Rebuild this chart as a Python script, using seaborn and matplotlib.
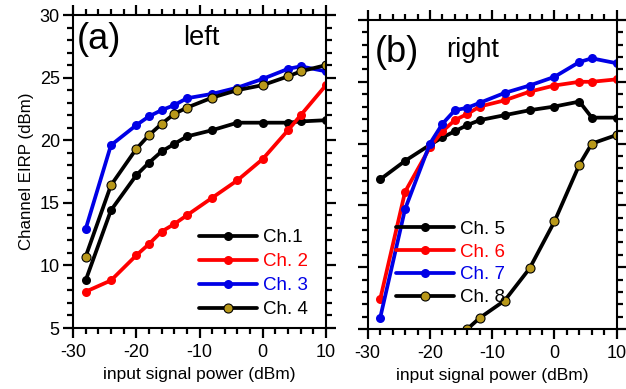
import numpy as np
import pandas as pd
import matplotlib
matplotlib.use("Agg")
import matplotlib.pyplot as plt
import seaborn as sns
from matplotlib.ticker import MultipleLocator

sns.set_style("ticks")
plt.rcParams['font.family'] = ['Liberation Sans', 'DejaVu Sans']
plt.rcParams['text.color'] = 'black'
plt.rcParams['axes.labelcolor'] = 'black'
plt.rcParams['axes.linewidth'] = 1.5
plt.rcParams['axes.edgecolor'] = 'black'
plt.rcParams['axes.unicode_minus'] = False

# ---- data ----
x_left = [-28, -24, -20, -18, -16, -14, -12, -8, -4, 0, 4, 6, 10]
ch1 = [8.8, 14.4, 17.2, 18.2, 19.1, 19.7, 20.3, 20.8, 21.4, 21.4, 21.4, 21.5, 21.6]
ch2 = [7.9, 8.8, 10.8, 11.7, 12.7, 13.3, 14.0, 15.4, 16.8, 18.5, 20.8, 22.0, 24.4]
ch3 = [12.9, 19.6, 21.2, 21.9, 22.4, 22.8, 23.35, 23.7, 24.2, 24.9, 25.7, 25.9, 25.5]
ch4 = [10.7, 16.4, 19.3, 20.4, 21.3, 22.1, 22.6, 23.4, 24.0, 24.4, 25.1, 25.5, 26.0]

x_right = [-28, -24, -20, -18, -16, -14, -12, -8, -4, 0, 4, 6, 10]
ch5 = [17.1, 18.6, 19.9, 20.5, 21.0, 21.5, 21.9, 22.3, 22.7, 23.0, 23.4, 22.1, 22.1]
ch6 = [7.4, 16.1, 19.7, 21.0, 21.9, 22.4, 23.0, 23.5, 24.2, 24.7, 25.0, 25.0, 25.2]
ch7 = [5.9, 14.7, 20.0, 21.6, 22.7, 22.9, 23.3, 24.1, 24.7, 25.4, 26.6, 26.9, 26.5]
x_ch8 = [-14, -12, -8, -4, 0, 4, 6, 10]
ch8 = [5.0, 5.9, 7.3, 9.9, 13.7, 18.3, 20.0, 20.7]

labels_left = ["Ch.1", "Ch. 2", "Ch. 3", "Ch. 4"]
labels_right = ["Ch. 5", "Ch. 6", "Ch. 7", "Ch. 8"]
xticks = [-30, -20, -10, 0, 10]
yticks = [5, 10, 15, 20, 25, 30]

BLACK = "#000000"
RED = "#ff0000"
BLUE = "#0000e6"
GOLD = "#b8981a"

fig = plt.figure(figsize=(6.26, 3.89), dpi=100)
axL = fig.add_axes([0.1166, 0.1568, 0.4042, 0.8046])
axR = fig.add_axes([0.5874, 0.1542, 0.3978, 0.7944])

LW = 2.7
MS = 6.5

def draw(ax, x, y, color, label, face=None):
    df = pd.DataFrame({"x": x, "y": y})
    sns.lineplot(data=df, x="x", y="y", ax=ax, color=color, linewidth=LW,
                 marker="o", markersize=MS, markerfacecolor=face or color,
                 markeredgecolor=BLACK if face else color, markeredgewidth=0.8 if face else 0,
                 label=label, sort=False, estimator=None)

draw(axL, x_left, ch1, BLACK, labels_left[0])
draw(axL, x_left, ch2, RED, labels_left[1])
draw(axL, x_left, ch3, BLUE, labels_left[2])
draw(axL, x_left, ch4, BLACK, labels_left[3], face=GOLD)

draw(axR, x_right, ch5, BLACK, labels_right[0])
draw(axR, x_right, ch6, RED, labels_right[1])
draw(axR, x_right, ch7, BLUE, labels_right[2])
draw(axR, x_ch8, ch8, BLACK, labels_right[3], face=GOLD)

for ax in (axL, axR):
    ax.set_xlim(-30, 10)
    ax.set_ylim(5, 30)
    ax.set_xticks(xticks)
    ax.set_yticks(yticks)
    ax.xaxis.set_minor_locator(MultipleLocator(2))
    ax.yaxis.set_minor_locator(MultipleLocator(1))
    ax.tick_params(which="both", direction="out", length=7.5, width=1.6, color="black",
                   top=True, right=True, bottom=True, left=True,
                   labelcolor="black", labelsize=13)
    ax.tick_params(which="minor", length=4)
    ax.tick_params(axis="x", which="major", pad=4)
    ax.tick_params(axis="y", which="major", pad=2)
    ax.set_xlabel("input signal power (dBm)", fontsize=12.5, labelpad=4)
    ax.set_ylabel("")

axR.tick_params(labelleft=False)
axL.set_ylabel("Channel EIRP (dBm)", fontsize=12.2, labelpad=4)

axL.text(0.016, 0.891, "(a)", transform=axL.transAxes, fontsize=26, va="baseline", ha="left")
axL.text(0.435, 0.904, "left", transform=axL.transAxes, fontsize=19.5, va="baseline", ha="left")
axR.text(0.03, 0.865, "(b)", transform=axR.transAxes, fontsize=26, va="baseline", ha="left")
axR.text(0.315, 0.879, "right", transform=axR.transAxes, fontsize=19.5, va="baseline", ha="left")

legkw = dict(frameon=False, fontsize=13.5, handlelength=3.1, handletextpad=0.32,
             borderpad=0, borderaxespad=0, labelcolor="linecolor",
             loc="upper left")
axL.legend(bbox_to_anchor=(0.498, 0.316), labelspacing=0.37, **legkw)
axR.legend(bbox_to_anchor=(0.114, 0.35), labelspacing=0.3, **legkw)

fig.savefig("out.png", dpi=100)
